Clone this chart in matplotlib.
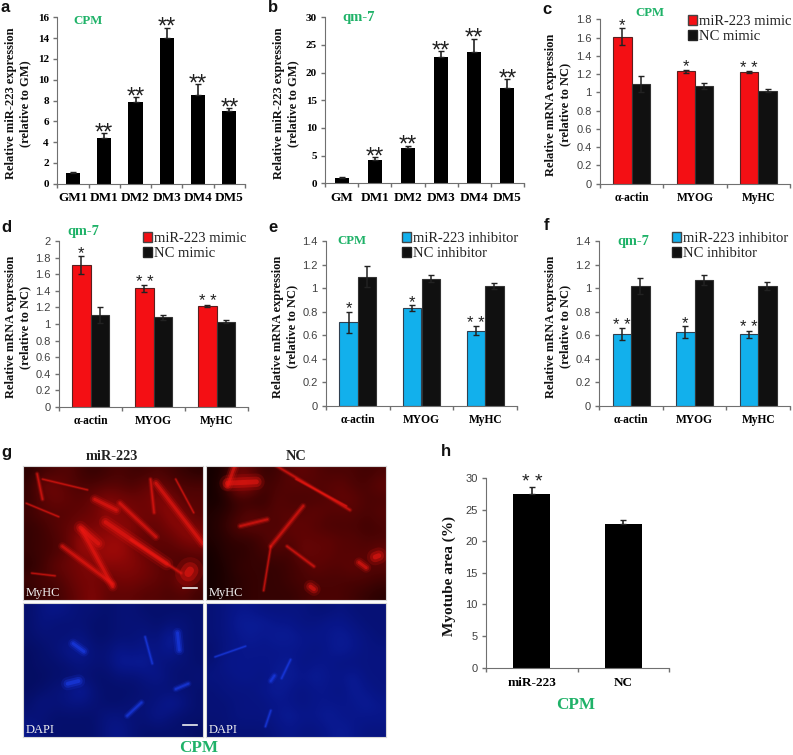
import matplotlib
matplotlib.use('Agg')
import matplotlib.pyplot as plt
from matplotlib.colors import LinearSegmentedColormap
from matplotlib.patches import Patch

W, H = 793, 755
GREEN = '#1fb268'
AXIS = '#707070'
RED = '#f40f14'
BLUE = '#12b0ec'
DARK = '#101010'

# panel a, b
a_labels = ['GM1', 'DM1', 'DM2', 'DM3', 'DM4', 'DM5']
a_values = [1.0, 4.35, 7.85, 14.0, 8.55, 6.95]
a_errors = [0.1, 0.5, 0.45, 1.0, 1.0, 0.3]
a_stars = ['', '**', '**', '**', '**', '**']

b_labels = ['GM', 'DM1', 'DM2', 'DM3', 'DM4', 'DM5']
b_values = [1.0, 4.3, 6.4, 22.8, 23.7, 17.3]
b_errors = [0.15, 0.4, 0.4, 1.1, 2.4, 1.5]
b_stars = ['', '**', '**', '**', '**', '**']

# panels c-f
genes = ['α-actin', 'MYOG', 'MyHC']

c_treat = [1.61, 1.23, 1.22]
c_treat_err = [0.09, 0.02, 0.01]
c_ctrl = [1.09, 1.07, 1.02]
c_ctrl_err = [0.09, 0.03, 0.02]
c_stars = ['*', '*', '**']

d_treat = [1.71, 1.43, 1.22]
d_treat_err = [0.11, 0.04, 0.015]
d_ctrl = [1.11, 1.08, 1.03]
d_ctrl_err = [0.1, 0.03, 0.02]
d_stars = ['*', '**', '**']

e_treat = [0.71, 0.83, 0.64]
e_treat_err = [0.09, 0.025, 0.04]
e_ctrl = [1.10, 1.08, 1.02]
e_ctrl_err = [0.09, 0.03, 0.025]
e_stars = ['*', '*', '**']

f_treat = [0.61, 0.63, 0.61]
f_treat_err = [0.05, 0.05, 0.03]
f_ctrl = [1.02, 1.07, 1.02]
f_ctrl_err = [0.07, 0.04, 0.03]
f_stars = ['**', '*', '**']

# panel h
h_labels = ['miR-223', 'NC']
h_values = [27.4, 22.7]
h_errors = [1.2, 0.7]
h_stars = ['* *', '']

# panel g, brightness read roughly off the micrographs (0 dark, 1 bright)
g_red_left = [
    [.15, .25, .30, .35, .25, .20, .25, .30, .25, .25, .30, .25, .20, .15],
    [.20, .45, .45, .35, .30, .30, .35, .35, .30, .40, .45, .35, .30, .30],
    [.20, .35, .45, .40, .35, .45, .55, .50, .45, .45, .55, .50, .35, .35],
    [.25, .35, .35, .35, .40, .45, .60, .55, .50, .45, .50, .60, .45, .35],
    [.20, .25, .35, .40, .50, .50, .55, .55, .55, .45, .40, .55, .60, .45],
    [.20, .25, .30, .40, .65, .60, .60, .65, .50, .40, .40, .40, .55, .60],
    [.20, .25, .30, .40, .60, .60, .65, .65, .55, .45, .35, .35, .35, .40],
    [.15, .25, .40, .45, .50, .55, .55, .55, .55, .50, .40, .35, .30, .30],
    [.25, .30, .30, .40, .50, .50, .45, .50, .50, .45, .40, .35, .60, .35],
    [.15, .25, .25, .35, .45, .55, .40, .40, .40, .35, .35, .30, .35, .25],
]
g_red_right = [
    [.05, .10, .45, .35, .20, .25, .35, .40, .35, .30, .30, .30, .25, .30],
    [.05, .20, .65, .60, .25, .30, .35, .35, .35, .35, .40, .30, .30, .40],
    [.05, .10, .25, .20, .20, .35, .30, .30, .30, .35, .40, .40, .30, .30],
    [.10, .15, .25, .35, .30, .35, .35, .35, .40, .35, .35, .35, .30, .35],
    [.10, .20, .35, .40, .35, .30, .40, .40, .35, .30, .30, .30, .25, .30],
    [.10, .15, .20, .20, .30, .40, .35, .40, .40, .40, .35, .35, .30, .30],
    [.05, .15, .15, .20, .25, .30, .25, .45, .40, .40, .35, .35, .35, .45],
    [.05, .10, .20, .20, .20, .20, .25, .30, .40, .35, .35, .40, .35, .35],
    [.05, .10, .15, .20, .20, .20, .25, .30, .30, .30, .30, .30, .30, .25],
    [.05, .10, .15, .20, .20, .20, .20, .25, .30, .30, .30, .25, .20, .15],
]
g_blue_left = [
    [.35, .45, .50, .45, .40, .40, .35, .40, .40, .35, .35, .35, .35, .35],
    [.35, .45, .40, .40, .40, .35, .35, .40, .40, .40, .35, .40, .40, .35],
    [.35, .40, .40, .40, .45, .35, .35, .40, .40, .45, .40, .60, .40, .35],
    [.30, .35, .40, .50, .55, .40, .40, .50, .45, .50, .45, .55, .40, .35],
    [.30, .35, .35, .40, .45, .40, .40, .55, .55, .55, .45, .40, .40, .35],
    [.30, .30, .35, .35, .40, .35, .35, .40, .40, .45, .50, .40, .35, .40],
    [.30, .35, .40, .45, .60, .40, .35, .35, .35, .40, .40, .40, .40, .35],
    [.35, .45, .40, .45, .45, .40, .35, .35, .40, .40, .45, .55, .45, .35],
    [.40, .40, .35, .35, .35, .35, .45, .45, .40, .40, .50, .40, .35, .35],
    [.50, .40, .35, .35, .35, .35, .45, .50, .40, .35, .35, .35, .35, .30],
]
g_blue_right = [
    [.40, .45, .50, .50, .45, .45, .45, .45, .40, .40, .45, .40, .40, .40],
    [.40, .45, .55, .55, .55, .50, .50, .45, .45, .50, .50, .45, .40, .40],
    [.40, .45, .50, .55, .50, .55, .55, .50, .50, .50, .55, .50, .45, .40],
    [.35, .45, .50, .50, .50, .50, .50, .50, .45, .50, .55, .50, .45, .45],
    [.40, .50, .50, .50, .50, .50, .55, .45, .50, .50, .45, .45, .45, .45],
    [.45, .45, .50, .50, .45, .55, .55, .50, .55, .50, .50, .55, .45, .45],
    [.40, .45, .45, .45, .50, .55, .50, .45, .50, .50, .45, .55, .50, .45],
    [.40, .40, .45, .45, .45, .50, .50, .45, .50, .50, .50, .50, .55, .50],
    [.40, .40, .45, .45, .45, .50, .55, .50, .50, .55, .50, .50, .50, .50],
    [.35, .40, .40, .40, .40, .45, .50, .45, .45, .50, .55, .50, .45, .45],
]

# fibres in the micrographs: x0, y0, x1, y1, width (fractions of the panel)
fibres_red_left = [
    (.74, .13, 1.0, .58, 3), (.33, .48, .50, .90, 3), (.46, .42, .80, .73, 4),
    (.54, .28, .74, .53, 2.5), (.22, .60, .50, .88, 2.5), (.08, .06, .11, .25, 1.5),
    (.11, .10, .36, .18, 1), (.71, .10, .73, .35, 1.5), (.40, .25, .52, .33, 3),
    (.85, .10, .95, .35, 1), (.60, .55, .88, .80, 1.5), (.02, .28, .20, .38, 1),
    (.93, .78, .92, .80, 8), (.32, .46, .42, .58, 4), (.05, .80, .18, .82, 1),
]
fibres_red_right = [
    (.12, .13, .28, .12, 5), (.16, .00, .12, .15, 3), (.54, .30, .36, .60, 2),
    (.36, .60, .32, .93, 1.2), (.39, .00, .80, .33, 1.5), (.19, .45, .34, .40, 2),
    (.96, .67, .94, .68, 5), (.85, .72, .89, .76, 3), (.58, .90, .60, .92, 4),
    (.50, .10, .78, .30, 1), (.45, .60, .60, .75, 1.5),
]
fibres_blue_left = [
    (.68, .25, .72, .45, 1.2), (.86, .22, .87, .35, 3), (.28, .30, .34, .36, 3),
    (.25, .60, .31, .58, 4), (.85, .64, .92, .60, 2), (.58, .84, .66, .74, 2),
]
fibres_blue_right = [
    (.47, .42, .42, .56, 1.2), (.36, .80, .33, .92, 1.2), (.05, .40, .22, .32, 1),
    (.38, .54, .36, .58, 2),
]

red_map = LinearSegmentedColormap.from_list('r', ['#0a0000', '#760505', '#ff1510'])
blue_map = LinearSegmentedColormap.from_list('b', ['#000028', '#08168a', '#2050ff'])

plt.rcParams['font.family'] = 'Liberation Serif'
fig = plt.figure(figsize=(W / 100, H / 100), dpi=100)


def fig_text(x, y, s, **kw):
    kw.setdefault('ha', 'center')
    kw.setdefault('va', 'center')
    fig.text(x / W, 1 - y / H, s, **kw)


def make_axes(left, right, top, bottom, ymax, step, ylab, ylab_x, ticks_font, tick_size=8, lab_size=9):
    ax = fig.add_axes([left / W, 1 - bottom / H, (right - left) / W, (bottom - top) / H])
    ax.set_ylim(0, ymax)
    ax.spines['top'].set_visible(False)
    ax.spines['right'].set_visible(False)
    ax.spines['left'].set_color(AXIS)
    ax.spines['bottom'].set_color(AXIS)
    n = int(round(ymax / step))
    ticks = [i * step for i in range(n + 1)]
    ax.set_yticks(ticks)
    ax.set_yticklabels(['%g' % round(t, 1) for t in ticks], **ticks_font, fontsize=tick_size)
    ax.tick_params(axis='both', color=AXIS, length=3, width=1, pad=3)
    fig_text(ylab_x, (top + bottom) / 2 + 3, ylab, rotation=90, fontweight='bold',
             fontsize=lab_size, linespacing=1.2, color='#111111')
    return ax


def set_groups(ax, labels, size=9.5, pad=6):
    n = len(labels)
    ax.set_xlim(0, n)
    ax.set_xticks(range(n + 1))
    ax.set_xticklabels([])
    ax.set_xticks([i + .5 for i in range(n)], minor=True)
    ax.set_xticklabels(labels, minor=True, fontweight='bold', fontsize=size)
    ax.tick_params(axis='x', which='minor', length=0, pad=pad)


def stars(ax, x, y, s, size, offset):
    ax.annotate(s, (x, y), xytext=(0, offset), textcoords='offset points', ha='center',
                va='center', fontsize=size, color='#202020', family='Liberation Sans')


def single(ax, values, errors, marks, width, star_size=17, offset=0):
    xs = [i + .5 for i in range(len(values))]
    ax.bar(xs, values, width, color='black')
    ax.errorbar(xs, values, yerr=[[0] * len(errors), errors], fmt='none', ecolor='#222222',
                elinewidth=1.2, capsize=2.2, capthick=1)
    for x, v, e, m in zip(xs, values, errors, marks):
        if m:
            stars(ax, x, v + e, m, star_size, offset)


def paired(ax, treat, treat_err, ctrl, ctrl_err, marks, color, names):
    xs = [i + .5 for i in range(len(treat))]
    w = 0.29
    x1 = [x - w / 2 for x in xs]
    x2 = [x + w / 2 for x in xs]
    ax.bar(x1, treat, w, color=color, edgecolor='#5a2020' if color == RED else '#304050', linewidth=.8)
    ax.bar(x2, ctrl, w, color=DARK, edgecolor='#333333', linewidth=.8)
    ax.errorbar(x1, treat, yerr=treat_err, fmt='none', ecolor='#222222', elinewidth=1.1, capsize=2, capthick=1)
    ax.errorbar(x2, ctrl, yerr=ctrl_err, fmt='none', ecolor='#222222', elinewidth=1.1, capsize=2, capthick=1)
    for x, v, e, m in zip(x1, treat, treat_err, marks):
        stars(ax, x, v + e, ' '.join(m), 12, 2)
    set_groups(ax, genes, size=8.3, pad=6)
    return [Patch(facecolor=color, edgecolor='#444444', label=names[0]),
            Patch(facecolor=DARK, edgecolor='#222222', label=names[1])]


def add_legend(ax, handles, x, y):
    ax.legend(handles=handles, loc='upper left', bbox_to_anchor=(x / W, 1 - y / H),
              bbox_transform=fig.transFigure, frameon=False, borderpad=0, borderaxespad=0,
              handlelength=.6, handleheight=.7, handletextpad=.15, labelspacing=.1,
              prop={'family': 'Liberation Serif', 'size': 10.5}, labelcolor='#222222')


serif_bold = {'family': 'Liberation Serif', 'fontweight': 'bold'}
sans = {'family': 'Liberation Sans', 'color': '#404040'}

mir_label = 'Relative miR-223 expression\n(relative to GM)'
mrna_label = 'Relative mRNA expression\n(relative to NC)'

# a
ax_a = make_axes(57.3, 245, 17.3, 183.7, 16, 2, mir_label, 18, serif_bold)
single(ax_a, a_values, a_errors, a_stars, .45)
set_groups(ax_a, a_labels)

# b
ax_b = make_axes(325, 524, 17.3, 183.3, 30, 5, mir_label, 286, serif_bold)
single(ax_b, b_values, b_errors, b_stars, .42)
set_groups(ax_b, b_labels)

# c
ax_c = make_axes(600, 790, 19.3, 183.7, 1.8, .2, mrna_label, 558, sans)
h = paired(ax_c, c_treat, c_treat_err, c_ctrl, c_ctrl_err, c_stars, RED, ['miR-223 mimic', 'NC mimic'])
add_legend(ax_c, h, 688, 15)

# d
ax_d = make_axes(59, 248, 241.3, 406.7, 2, .2, mrna_label, 18, sans)
h = paired(ax_d, d_treat, d_treat_err, d_ctrl, d_ctrl_err, d_stars, RED, ['miR-223 mimic', 'NC mimic'])
add_legend(ax_d, h, 143, 232)

# e
ax_e = make_axes(326, 517, 241.3, 406, 1.4, .2, mrna_label, 285, sans)
h = paired(ax_e, e_treat, e_treat_err, e_ctrl, e_ctrl_err, e_stars, BLUE, ['miR-223 inhibitor', 'NC inhibitor'])
add_legend(ax_e, h, 402, 232)

# f
ax_f = make_axes(599.3, 790, 241.3, 406, 1.4, .2, mrna_label, 558, sans)
h = paired(ax_f, f_treat, f_treat_err, f_ctrl, f_ctrl_err, f_stars, BLUE, ['miR-223 inhibitor', 'NC inhibitor'])
add_legend(ax_f, h, 672, 232)

# h
ax_h = make_axes(486, 669.3, 478, 667.7, 30, 5, 'Myotube area (%)', 449, sans, lab_size=11)
single(ax_h, h_values, h_errors, h_stars, .4, 14, 3)
set_groups(ax_h, h_labels, size=9.5, pad=7)


# g, micrographs
def micrograph(left, right, top, bottom, grid, cmap, fibres, colour, name, scale_bar):
    ax = fig.add_axes([left / W, 1 - bottom / H, (right - left) / W, (bottom - top) / H])
    ax.imshow(grid, cmap=cmap, vmin=0, vmax=1, aspect='auto', interpolation='bicubic',
              extent=(0, 1, 1, 0))
    for x0, y0, x1, y1, lw in fibres:
        for grow, alpha in [(2.4, .15), (1.5, .3), (.7, .5)]:
            ax.plot([x0, x1], [y0, y1], color=colour, lw=lw * grow, alpha=alpha,
                    solid_capstyle='round')
    ax.set_xlim(0, 1)
    ax.set_ylim(1, 0)
    ax.set_xticks([])
    ax.set_yticks([])
    for s in ax.spines.values():
        s.set_color('#d8d8d8')
        s.set_linewidth(.8)
    ax.text(.015, .055, name, color='#f0f0f0', fontsize=9, transform=ax.transAxes, ha='left', va='center')
    if scale_bar:
        ax.plot([.89, .97], [.91, .91], color='#f0f0f0', lw=1.2)


micrograph(22.7, 202.7, 465.7, 600, g_red_left, red_map, fibres_red_left, '#f01812', 'MyHC', True)
micrograph(206, 386, 465.7, 600, g_red_right, red_map, fibres_red_right, '#f01812', 'MyHC', False)
micrograph(22.7, 202.7, 603.3, 737.3, g_blue_left, blue_map, fibres_blue_left, '#1c40f0', 'DAPI', True)
micrograph(206, 386, 603.3, 737.3, g_blue_right, blue_map, fibres_blue_right, '#1c40f0', 'DAPI', False)

fig_text(112, 457, 'miR-223', fontweight='bold', fontsize=10.3, color='#222222')
fig_text(296, 457, 'NC', fontweight='bold', fontsize=10.3, color='#222222')

# green cell line titles
for x, y, s, size in [(88, 20.7, 'CPM', 9.3), (359, 17, 'qm-7', 10.5), (650, 13, 'CPM', 9.2),
                      (83, 232, 'qm-7', 10.3), (352, 241, 'CPM', 9.2), (633, 241, 'qm-7', 10.3),
                      (199, 748, 'CPM', 12.3), (576, 705, 'CPM', 12.3)]:
    fig_text(x, y, s, color=GREEN, fontweight='bold', fontsize=size)

# panel letters
for x, y, s in [(5, 8, 'a'), (273, 8, 'b'), (547, 9, 'c'), (6, 227, 'd'), (273, 227, 'e'),
                (546, 226, 'f'), (6, 453, 'g'), (446, 452, 'h')]:
    fig_text(x, y, s, family='Liberation Sans', fontweight='bold', fontsize=12, color='#111111')

fig.savefig('out.png', dpi=100)
